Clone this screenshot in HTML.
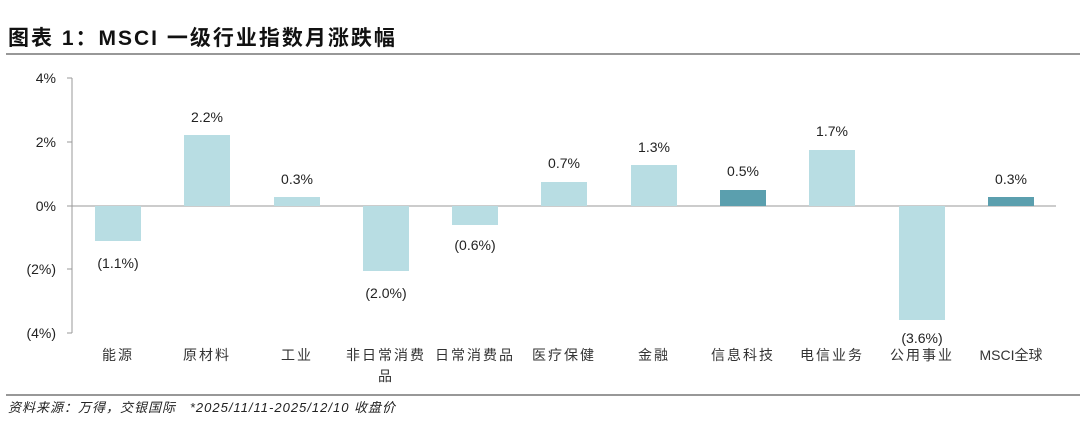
<!DOCTYPE html><html><head><meta charset="utf-8"><style>
body{margin:0;width:1080px;height:439px;background:#fff;overflow:hidden;font-family:"Liberation Sans","Noto Sans CJK SC",sans-serif}
</style></head><body>
<svg width="1080" height="439" xmlns="http://www.w3.org/2000/svg" font-family="Liberation Sans, Noto Sans CJK SC, sans-serif">
<text x="8" y="45" font-size="21" font-weight="bold" fill="#111" letter-spacing="2">图表 1：MSCI 一级行业指数月涨跌幅</text>
<line x1="6" y1="54" x2="1080" y2="54" stroke="#777" stroke-width="1.6"/>
<g font-size="14" fill="#222" text-anchor="end">
<text x="56" y="83">4%</text><text x="56" y="147">2%</text><text x="56" y="211">0%</text><text x="56" y="274">(2%)</text><text x="56" y="338">(4%)</text>
</g>
<g stroke="#999" stroke-width="1">
<line x1="72" y1="78" x2="72" y2="333"/>
<line x1="67" y1="78" x2="72" y2="78"/><line x1="67" y1="142" x2="72" y2="142"/><line x1="67" y1="206" x2="72" y2="206"/><line x1="67" y1="269" x2="72" y2="269"/><line x1="67" y1="333" x2="72" y2="333"/>
<line x1="72" y1="206" x2="1056" y2="206"/>
</g>
<g fill="#b8dde3">
<rect x="95" y="206" width="46" height="35"/>
<rect x="184" y="135" width="46" height="71"/>
<rect x="274" y="197" width="46" height="9"/>
<rect x="363" y="206" width="46" height="65"/>
<rect x="452" y="206" width="46" height="19"/>
<rect x="541" y="182" width="46" height="24"/>
<rect x="631" y="165" width="46" height="41"/>
<rect x="809" y="150" width="46" height="56"/>
<rect x="899" y="206" width="46" height="114"/>
</g>
<g fill="#5b9fae">
<rect x="720" y="190" width="46" height="16"/>
<rect x="988" y="197" width="46" height="9"/>
</g>
<g font-size="14" fill="#222" text-anchor="middle">
<text x="118" y="268">(1.1%)</text>
<text x="207" y="122">2.2%</text>
<text x="297" y="184">0.3%</text>
<text x="386" y="298">(2.0%)</text>
<text x="475" y="250">(0.6%)</text>
<text x="564" y="168">0.7%</text>
<text x="654" y="152">1.3%</text>
<text x="743" y="176">0.5%</text>
<text x="832" y="136">1.7%</text>
<text x="922" y="343">(3.6%)</text>
<text x="1011" y="184">0.3%</text>
</g>
<g font-size="14" fill="#333" text-anchor="middle" letter-spacing="2">
<text x="118" y="360">能源</text>
<text x="207" y="360">原材料</text>
<text x="297" y="360">工业</text>
<text x="386" y="360">非日常消费</text>
<text x="386" y="381">品</text>
<text x="475" y="360">日常消费品</text>
<text x="564" y="360">医疗保健</text>
<text x="654" y="360">金融</text>
<text x="743" y="360">信息科技</text>
<text x="832" y="360">电信业务</text>
<text x="922" y="360">公用事业</text>
<text x="1011" y="360" letter-spacing="0">MSCI全球</text>
</g>
<line x1="6" y1="395" x2="1080" y2="395" stroke="#777" stroke-width="1.6"/>
<text x="8" y="412" font-size="13" font-style="italic" fill="#222" letter-spacing="1" xml:space="preserve">资料来源：万得，交银国际   *2025/11/11-2025/12/10 收盘价</text>
</svg>
</body></html>
